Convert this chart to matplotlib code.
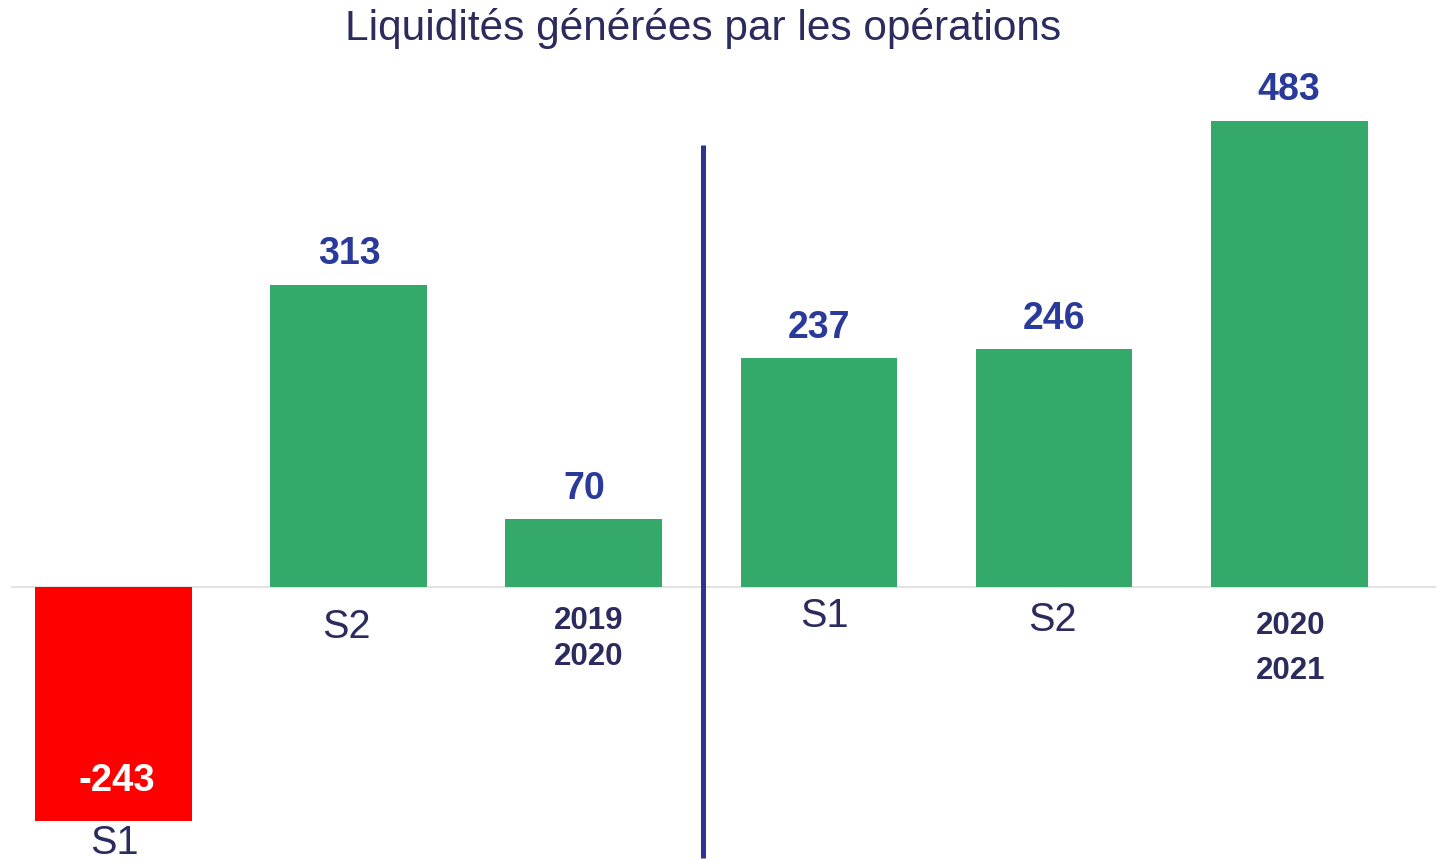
import matplotlib
matplotlib.use("Agg")
import matplotlib.pyplot as plt

plt.rcParams["font.family"] = ["Liberation Sans", "DejaVu Sans"]

# data
values = [-243, 313, 70, 237, 246, 483]
value_labels = ["-243", "313", "70", "237", "246", "483"]
cat_labels = ["S1", "S2", "2019\n2020", "S1", "S2", "2020\n2021"]

GREEN = "#35A96A"
RED = "#FF0000"
VALUE_BLUE = "#2A3A9A"
NAVY = "#2B2B5E"
LINE_BLUE = "#283593"

x = list(range(len(values)))
colors = [RED if v < 0 else GREEN for v in values]

fig = plt.figure(figsize=(14.42, 8.6), dpi=100)
ax = fig.add_axes([0, 0, 1, 1])
ax.set_xlim(-0.485, 5.651)
ax.set_ylim(-283, 608)
ax.axis("off")

# zero line
ax.plot([-0.434, 5.62], [0, 0], color="#E3E3E3", lw=1.5, zorder=1)

ax.bar(x, values, width=0.668, color=colors, zorder=2)

# value labels
for xi, v, lab in zip(x, values, value_labels):
    if v < 0:
        ax.text(xi + 0.013, -212, lab, ha="center", va="baseline",
                fontsize=27.5, fontweight="bold", color="white", zorder=3)
    else:
        ax.text(xi, v + 21, lab, ha="center", va="baseline",
                fontsize=27, fontweight="bold", color=VALUE_BLUE, zorder=3)

# category labels
ax.text(0, -277, cat_labels[0], ha="center", va="baseline", fontsize=28.5, color=NAVY)
ax.text(1 - 0.01, -53, cat_labels[1], ha="center", va="baseline", fontsize=28.5, color=NAVY)
ax.text(2 + 0.021, -54, cat_labels[2], ha="center", va="center", fontsize=22.5,
        fontweight="bold", color=NAVY, linespacing=1.27)
ax.text(5 + 0.008, -64, cat_labels[5], ha="center", va="center", fontsize=22.5,
        fontweight="bold", color=NAVY, linespacing=1.68)
ax.text(3 + 0.021, -41.5, cat_labels[3], ha="center", va="baseline", fontsize=28.5, color=NAVY)
ax.text(4 - 0.008, -45.5, cat_labels[4], ha="center", va="baseline", fontsize=28.5, color=NAVY)

# separator between the two periods
ax.plot([2.506, 2.506], [458, -281], color=LINE_BLUE, lw=3.6, solid_capstyle="butt", zorder=3)

fig.text(0.4875, 0.967, "Liquidités générées par les opérations", ha="center", va="center",
         fontsize=30.5, color=NAVY)

fig.savefig("out.png", dpi=100)
